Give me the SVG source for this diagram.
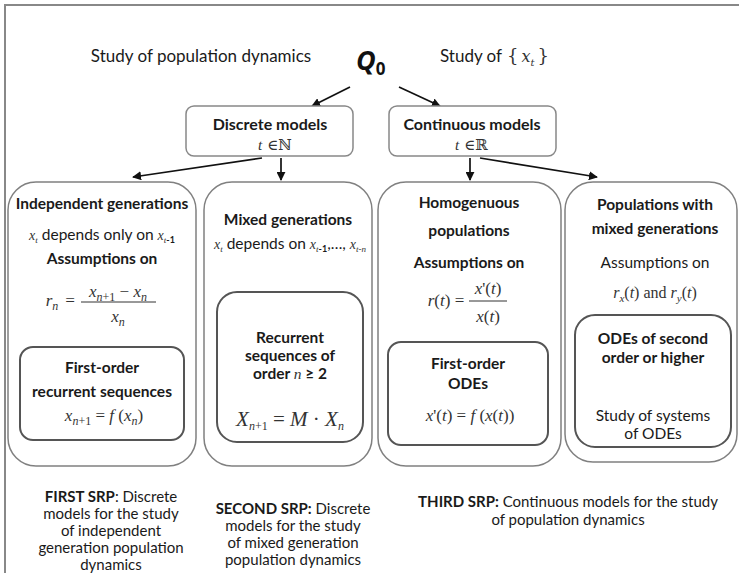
<svg xmlns="http://www.w3.org/2000/svg" width="739" height="573" viewBox="0 0 739 573">
<style>
.t{font-family:Lato,"Open Sans","Liberation Sans",sans-serif;fill:#1a1a1a;text-anchor:middle;font-size:15.5px}
.b{font-weight:bold}
.m{font-family:"Liberation Serif","DejaVu Serif",serif;font-style:italic;fill:#333;text-anchor:middle}
.mu{font-family:"DejaVu Serif","Liberation Serif",serif;fill:#333}
.outer{fill:#fff;stroke:#808080;stroke-width:1.5}
.inner{fill:#fff;stroke:#555;stroke-width:2}
.top{fill:#fff;stroke:#888;stroke-width:1.5}
.c{stroke:#111;stroke-width:1.7;fill:none;marker-end:url(#ah)}
.s{font-size:15px}
</style>
<defs>
<marker id="ah" viewBox="0 0 10 10" refX="9" refY="5" markerWidth="9" markerHeight="9" orient="auto" markerUnits="userSpaceOnUse">
<path d="M0,0 L10,5 L0,10 z" fill="#111"/>
</marker>
</defs>
<rect width="739" height="573" fill="#fff"/>
<path d="M5,573 V5 H739" fill="none" stroke="#888" stroke-width="2"/>

<g id="header">
<text class="t" x="201" y="62" style="font-size:17px">Study of population dynamics</text>
<text x="356" y="70" font-family="'Open Sans','Liberation Sans',sans-serif" font-weight="bold" font-style="italic" font-size="27" fill="#111">Q<tspan font-size="17" dy="5" font-style="normal">0</tspan></text>
<text class="t" x="471" y="62" style="font-size:17px">Study of</text>
<text x="507" y="62" class="mu" font-size="18">{<tspan font-style="italic" font-size="16" dx="3">x</tspan><tspan font-style="italic" font-size="10" dy="4">t</tspan><tspan dy="-4" dx="3">}</tspan></text>
</g>

<g id="connectors">
<line class="c" x1="350" y1="87" x2="312" y2="106"/>
<line class="c" x1="399" y1="87" x2="440" y2="106"/>
<line class="c" x1="262" y1="158" x2="133" y2="177"/>
<line class="c" x1="281" y1="158" x2="281" y2="180"/>
<line class="c" x1="470" y1="158" x2="470" y2="180"/>
<line class="c" x1="480" y1="158" x2="597" y2="177"/>
</g>

<g id="discrete">
<rect class="top" x="186" y="106" width="167" height="50" rx="8"/>
<text class="t b" x="270" y="130" style="font-size:16px">Discrete models</text>
<text x="258" y="150" class="mu" font-size="15"><tspan font-style="italic" font-family="Liberation Serif">t</tspan> ∈ℕ</text>
</g>

<g id="continuous">
<rect class="top" x="389" y="106" width="167" height="50" rx="8"/>
<text class="t b" x="472" y="130" style="font-size:16px">Continuous models</text>
<text x="455" y="150" class="mu" font-size="15"><tspan font-style="italic" font-family="Liberation Serif">t</tspan> ∈ℝ</text>
</g>

<g id="independent">
<rect class="outer" x="8" y="182" width="188" height="284" rx="28"/>
<text class="t b" x="102" y="209">Independent generations</text>
<text class="t" x="102" y="240"><tspan class="m" font-size="14">x</tspan><tspan class="m" font-size="9" dy="3">t</tspan><tspan dy="-3"> depends only on </tspan><tspan class="m" font-size="14">x</tspan><tspan class="m" font-size="9" dy="3">t</tspan><tspan font-size="9" font-weight="bold">-1</tspan></text>
<text class="t b" x="102" y="264">Assumptions on</text>
<text class="m" x="52" y="306" font-size="17">r<tspan font-size="12" dy="4">n</tspan></text>
<text class="m" x="70" y="306" font-size="17" font-style="normal">=</text>
<text class="m" x="118" y="297" font-size="17">x<tspan font-size="12" dy="4">n</tspan><tspan font-size="12" font-style="normal">+1</tspan><tspan dy="-4" font-style="normal"> − </tspan>x<tspan font-size="12" dy="4">n</tspan></text>
<line x1="81" y1="302" x2="156" y2="302" stroke="#333" stroke-width="1"/>
<text class="m" x="118" y="322" font-size="17">x<tspan font-size="12" dy="4">n</tspan></text>
<rect class="inner" x="20" y="347" width="164" height="93" rx="13"/>
<text class="t b" x="102" y="373">First-order</text>
<text class="t b" x="102" y="397">recurrent sequences</text>
<text class="m" x="104" y="421" font-size="17">x<tspan font-size="12" dy="4">n</tspan><tspan font-size="12" font-style="normal">+1</tspan><tspan dy="-4" font-style="normal"> = </tspan>f<tspan font-style="normal"> (</tspan>x<tspan font-size="12" dy="4">n</tspan><tspan dy="-4" font-style="normal">)</tspan></text>
</g>

<g id="mixed">
<rect class="outer" x="204" y="182" width="168" height="284" rx="28"/>
<text class="t b" x="288" y="225">Mixed generations</text>
<text class="t" x="290" y="249"><tspan class="m" font-size="14">x</tspan><tspan class="m" font-size="9" dy="3">t</tspan><tspan dy="-3"> depends on </tspan><tspan class="m" font-size="14">x</tspan><tspan class="m" font-size="9" dy="3">t</tspan><tspan font-size="9" font-weight="bold">-1</tspan><tspan dy="-3">,…, </tspan><tspan class="m" font-size="14">x</tspan><tspan class="m" font-size="9" dy="3">t-n</tspan></text>
<rect class="inner" x="217" y="292" width="146" height="150" rx="20"/>
<text class="t b" x="290" y="343">Recurrent</text>
<text class="t b" x="290" y="361">sequences of</text>
<text class="t b" x="290" y="379">order <tspan class="m" font-weight="normal">n</tspan> ≥ 2</text>
<text class="m" x="290" y="426" font-size="21">X<tspan font-size="12" dy="4">n</tspan><tspan font-size="12" font-style="normal">+1</tspan><tspan dy="-4" font-style="normal"> = </tspan>M<tspan font-style="normal"> · </tspan>X<tspan font-size="12" dy="4">n</tspan></text>
</g>

<g id="homogenuous">
<rect class="outer" x="378" y="182" width="183" height="284" rx="28"/>
<text class="t b" x="469" y="208">Homogenuous</text>
<text class="t b" x="469" y="236">populations</text>
<text class="t b" x="469" y="268">Assumptions on</text>
<text class="m" x="446" y="306" font-size="17">r<tspan font-style="normal">(</tspan>t<tspan font-style="normal">) =</tspan></text>
<text class="m" x="488" y="294" font-size="17">x<tspan font-style="normal">'(</tspan>t<tspan font-style="normal">)</tspan></text>
<line x1="469" y1="301" x2="507" y2="301" stroke="#333" stroke-width="1"/>
<text class="m" x="488" y="322" font-size="17">x<tspan font-style="normal">(</tspan>t<tspan font-style="normal">)</tspan></text>
<rect class="inner" x="388" y="342" width="160" height="103" rx="13"/>
<text class="t b" x="468" y="369">First-order</text>
<text class="t b" x="468" y="389">ODEs</text>
<text class="m" x="470" y="421" font-size="17">x<tspan font-style="normal">'(</tspan>t<tspan font-style="normal">) = </tspan>f<tspan font-style="normal"> (</tspan>x<tspan font-style="normal">(</tspan>t<tspan font-style="normal">))</tspan></text>
</g>

<g id="mixedpop">
<rect class="outer" x="565" y="182" width="172" height="280" rx="28"/>
<text class="t b" x="655" y="210">Populations with</text>
<text class="t b" x="655" y="234">mixed generations</text>
<text class="t" x="655" y="268">Assumptions on</text>
<text class="m" x="655" y="298" font-size="16">r<tspan font-size="11" dy="4">x</tspan><tspan dy="-4" font-style="normal">(</tspan>t<tspan font-style="normal">) and  </tspan>r<tspan font-size="11" dy="4">y</tspan><tspan dy="-4" font-style="normal">(</tspan>t<tspan font-style="normal">)</tspan></text>
<rect class="inner" x="575" y="315" width="156" height="132" rx="20"/>
<text class="t b" x="653" y="344">ODEs of second</text>
<text class="t b" x="653" y="363">order or higher</text>
<text class="t" x="653" y="421">Study of systems</text>
<text class="t" x="653" y="439">of ODEs</text>
</g>

<g id="srp1">
<text class="t s" x="111" y="502"><tspan font-weight="bold">FIRST SRP</tspan>: Discrete</text>
<text class="t s" x="111" y="519">models for the study</text>
<text class="t s" x="111" y="536">of independent</text>
<text class="t s" x="111" y="553">generation population</text>
<text class="t s" x="111" y="570">dynamics</text>
</g>
<g id="srp2">
<text class="t s" x="293" y="514"><tspan font-weight="bold">SECOND SRP:</tspan> Discrete</text>
<text class="t s" x="293" y="531">models for the study</text>
<text class="t s" x="293" y="548">of mixed generation</text>
<text class="t s" x="293" y="565">population dynamics</text>
</g>
<g id="srp3">
<text class="t s" x="568" y="507"><tspan font-weight="bold">THIRD SRP:</tspan> Continuous models for the study</text>
<text class="t s" x="568" y="525">of population dynamics</text>
</g>
</svg>
